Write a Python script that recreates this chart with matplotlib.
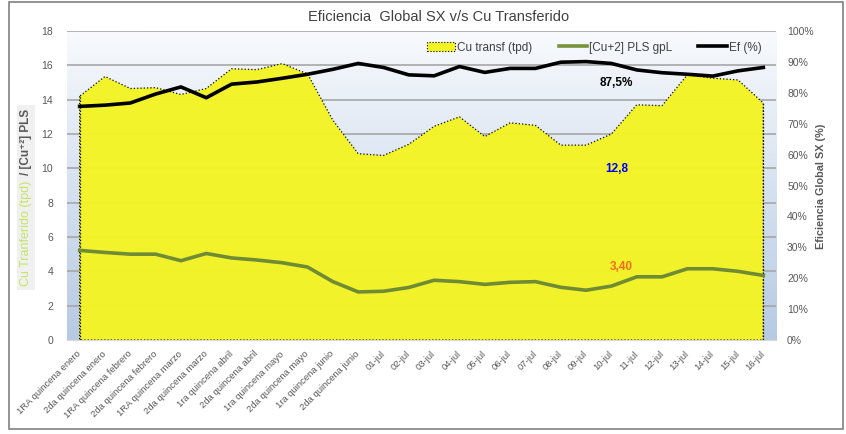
import numpy as np
import matplotlib
matplotlib.use('Agg')
import matplotlib.pyplot as plt
from matplotlib.patches import Rectangle, Patch
from matplotlib.lines import Line2D
from matplotlib.colors import LinearSegmentedColormap

# categorias (quincenas + dias de julio)
categorias = ['1RA quincena enero', '2da quincena enero', '1RA quincena febrero',
              '2da quincena febrero', '1RA quincena marzo', '2da quincena marzo',
              '1ra quincena abril', '2da quincena abril', '1ra quincena mayo',
              '2da quincena mayo', '1ra quincena junio', '2da quincena junio',
              '01-jul', '02-jul', '03-jul', '04-jul', '05-jul', '06-jul', '07-jul',
              '08-jul', '09-jul', '10-jul', '11-jul', '12-jul', '13-jul', '14-jul',
              '15-jul', '16-jul']

# Cu transferido (tpd)
cu_transf = [14.2, 15.35, 14.65, 14.7, 14.3, 14.65, 15.8, 15.75, 16.1, 15.5,
             12.8, 10.85, 10.75, 11.4, 12.45, 13.0, 11.85, 12.65, 12.5, 11.35,
             11.35, 12.0, 13.7, 13.65, 15.45, 15.25, 15.15, 13.8]

# [Cu+2] PLS gpL
cu_pls = [5.22, 5.1, 5.0, 5.0, 4.62, 5.04, 4.78, 4.66, 4.5, 4.25,
          3.4, 2.8, 2.84, 3.06, 3.48, 3.4, 3.24, 3.36, 3.4, 3.07,
          2.9, 3.14, 3.68, 3.68, 4.15, 4.15, 4.0, 3.76]

# Eficiencia global SX (%)
ef = [75.6, 76.0, 76.7, 79.6, 81.9, 78.4, 82.8, 83.5, 84.7, 86.0,
      87.6, 89.5, 88.2, 85.8, 85.5, 88.5, 86.6, 87.9, 87.9, 89.9,
      90.1, 89.5, 87.4, 86.5, 86.0, 85.4, 87.1, 88.2]

plt.rcParams['font.family'] = ['Liberation Sans', 'DejaVu Sans']
gris = '#595959'

fig = plt.figure(figsize=(8.46, 4.34), dpi=100)
ax = fig.add_axes([67/846, 1-340/434, (776-67)/846, (340-31)/434])

x = np.arange(len(categorias))

# fondo degradado
cmap = LinearSegmentedColormap.from_list('fondo', ['#b6cae3', '#f8fafd'])
grad = np.linspace(0, 1, 256).reshape(-1, 1)
ax.imshow(grad, extent=[0, 1, 0, 1], transform=ax.transAxes, aspect='auto',
          cmap=cmap, origin='lower', zorder=0)

for v in range(2, 19, 2):
    ax.axhline(v, color='#a6a6a6', lw=1.2, zorder=1)

ax.fill_between(x, 0, cu_transf, facecolor='#f4f424', alpha=0.97,
                edgecolor='black', linestyle=':', lw=0.9, zorder=2)
ax.plot([x[0], x[0]], [0, cu_transf[0]], color='black', ls=':', lw=0.9, zorder=3)
ax.plot([x[-1], x[-1]], [0, cu_transf[-1]], color='black', ls=':', lw=0.9, zorder=3)
ax.plot(x, cu_pls, color='#6f8c35', lw=2.6, zorder=4)

ax.set_xlim(-0.5, len(categorias) - 0.5)
ax.set_ylim(0, 18)
ax.set_yticks(range(0, 19, 2))
ax.set_xticks(x)
ax.set_xticklabels(categorias, rotation=45, ha='right', va='center',
                   rotation_mode='anchor', fontsize=7, color=gris)
ax.tick_params(axis='both', length=0, labelsize=7.5, colors=gris)
ax.tick_params(axis='x', pad=9, labelsize=6.8)
ax.tick_params(axis='y', pad=10)
for s in ['top', 'left', 'right']:
    ax.spines[s].set_visible(False)
ax.spines['bottom'].set_color('#d9d9d9')

ax2 = ax.twinx()
ax2.plot(x, ef, color='black', lw=2.6, zorder=5)
ax2.set_ylim(0, 100)
ax2.set_yticks(range(0, 101, 10))
ax2.set_yticklabels(['%d%%' % v for v in range(0, 101, 10)])
ax2.tick_params(axis='y', length=0, labelsize=7.5, colors=gris, pad=8)
for s in ax2.spines.values():
    s.set_visible(False)

# etiquetas de datos
ax2.text(21.2, 83.3, '87,5%', fontsize=8.5, fontweight='bold', color='black',
         ha='center', va='center')
ax.text(21.2, 9.95, '12,8', fontsize=8.5, fontweight='bold', color='#0000ff',
        ha='center', va='center')
ax.text(21.4, 4.25, '3,40', fontsize=8.5, fontweight='bold', color='#f26b1d',
        ha='center', va='center')

# leyenda
handles = [Patch(facecolor='#f4f424', edgecolor='black', linestyle=':', lw=0.8),
           Line2D([], [], color='#77933c', lw=2.6),
           Line2D([], [], color='black', lw=2.6)]
labels = ['Cu transf (tpd)', '[Cu+2] PLS gpL', 'Ef (%)']
leg = ax2.legend(handles, labels, loc='upper right', bbox_to_anchor=(0.995, 1.0),
                 ncol=3, frameon=False, fontsize=8.5, handlelength=2.4,
                 handletextpad=0.2, columnspacing=2.2)
for t in leg.get_texts():
    t.set_color('#404040')

fig.text(439/846, 1-17/434, 'Eficiencia  Global SX v/s Cu Transferido',
         fontsize=10.5, color='#404040', ha='center', va='center')

# titulo eje izquierdo (dos colores)
fig.patches.append(Rectangle((17/846, 1-290/434), 18/846, 185/434,
                             transform=fig.transFigure, facecolor='#f0f0f0',
                             edgecolor='none', zorder=0))
t1 = fig.text(26/846, 1-286/434, 'Cu Tranferido (tpd)', rotation=90, fontsize=9,
              color='#c6e463', ha='center', va='bottom')
fig.canvas.draw()
bb = t1.get_window_extent()
fig.text(26/846, (bb.y1 + 6) / fig.bbox.height, '/ [Cu⁺²] PLS', rotation=90,
         fontsize=8.5, fontweight='bold', color=gris, ha='center', va='bottom')

fig.text(821/846, 1-186/434, 'Eficiencia Global SX (%)', rotation=90, fontsize=7.8,
         fontweight='bold', color=gris, ha='center', va='center')

# borde exterior
fig.patches.append(Rectangle((9/846, 1-429/434), 834/846, 427/434,
                             transform=fig.transFigure, fill=False,
                             edgecolor='#808080', lw=1.2))

fig.savefig('out.png', dpi=100)
